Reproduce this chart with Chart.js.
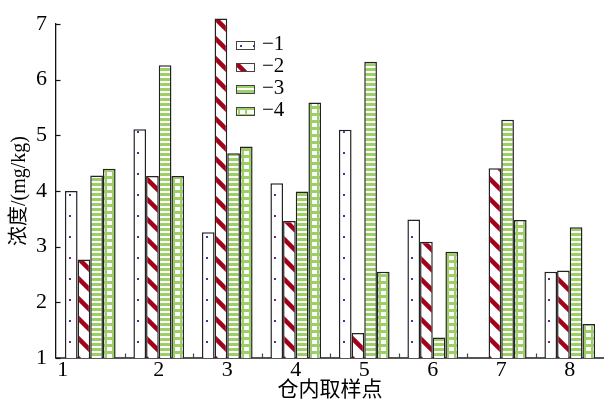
<!DOCTYPE html>
<html>
<head>
<meta charset="utf-8">
<script src="https://cdn.jsdelivr.net/npm/chart.js@4.4.1/dist/chart.umd.min.js"></script>
<style>
  html, body { margin: 0; padding: 0; background: #fff; }
  #wrap { width: 604px; height: 403px; position: relative; }
</style>
</head>
<body>
<div id="wrap"><canvas id="c"></canvas></div>
<script>
// Sampling points inside the granary and measured concentrations (mg/kg)
const sites = ['1', '2', '3', '4', '5', '6', '7', '8'];
const seriesNames = ['\u22121', '\u22122', '\u22123', '\u22124'];
const s1 = [4.00, 5.11, 3.26, 4.14, 5.10, 3.49, null, 2.55];
const s2 = [2.77, 4.27, 7.10, 3.46, 1.45, 3.09, 4.41, 2.57];
const s3 = [4.28, 6.26, 4.68, 3.99, 6.32, 1.37, 5.28, 3.35];
const s4 = [4.40, 4.27, 4.80, 5.59, 2.55, 2.91, 3.48, 1.61];
const yTicks = [1, 2, 3, 4, 5, 6, 7];

const GREEN = '#9ccf66';
const RED = '#a3001a';
const PURPLE = '#5b2a8c';
const SERIF = '"Liberation Serif", "Times New Roman", "DejaVu Serif", "Noto Sans CJK SC", serif';

// Hatch tiles for each series
function tile(w, h, draw) {
  const c = document.createElement('canvas');
  c.width = w; c.height = h;
  const g = c.getContext('2d');
  g.fillStyle = '#fff';
  g.fillRect(0, 0, w, h);
  draw(g, w, h);
  return c;
}
const tiles = [
  tile(13, 21, g => { g.fillStyle = PURPLE; g.fillRect(4, 4, 2, 2); }),
  tile(20, 20, g => {
    g.strokeStyle = RED; g.lineWidth = 4.5;
    for (let k = -1; k <= 1; k++) {
      g.beginPath(); g.moveTo(k * 20 - 3, -3); g.lineTo(k * 20 + 23, 23); g.stroke();
    }
  }),
  tile(8, 5, g => { g.fillStyle = GREEN; g.fillRect(0, 0, 8, 3); }),
  tile(16, 7, g => {
    g.fillStyle = GREEN;
    g.fillRect(0, 0, 16, 3);
    g.fillRect(2, 0, 2, 7);
    g.fillRect(9, 0, 2, 7);
  })
];
function hatch(ctx, i, x0, y0) {
  const p = ctx.createPattern(tiles[i], 'repeat');
  p.setTransform(new DOMMatrix().translate(x0, y0));
  return p;
}

// Anchor every bar's hatch to its own left edge
const barHatch = {
  id: 'barHatch',
  afterDatasetsUpdate(chart) {
    const ctx = chart.ctx;
    chart.data.datasets.forEach((ds, i) => {
      chart.getDatasetMeta(i).data.forEach(el => {
        el.options.backgroundColor = hatch(ctx, i, Math.round(el.x - el.width / 2), chart.chartArea.bottom);
      });
    });
  }
};

// Short inward tick marks on both axes
const inwardTicks = {
  id: 'inwardTicks',
  afterDraw(chart) {
    const ctx = chart.ctx;
    const xs = chart.scales.x, ys = chart.scales.y;
    const a = chart.chartArea;
    ctx.save();
    ctx.strokeStyle = '#111';
    ctx.lineWidth = 1.2;
    ys.ticks.forEach(t => {
      const y = Math.round(ys.getPixelForValue(t.value)) + 0.5;
      ctx.beginPath(); ctx.moveTo(a.left, y); ctx.lineTo(a.left + 4.5, y); ctx.stroke();
    });
    ctx.strokeStyle = '#444';
    for (let i = 1; i < sites.length; i++) {
      const x = Math.round(xs.getPixelForValue(i - 0.5)) + 0.5;
      ctx.beginPath(); ctx.moveTo(x, a.bottom); ctx.lineTo(x, a.bottom - 4.5); ctx.stroke();
    }
    ctx.restore();
  }
};

// Legend drawn inside the plot area
const innerLegend = {
  id: 'innerLegend',
  afterDraw(chart) {
    const ctx = chart.ctx;
    const a = chart.chartArea;
    const bx = a.left + 180, by = a.top + 21, gap = 22, bw = 18, bh = 8;
    ctx.save();
    chart.data.datasets.forEach((ds, i) => {
      const cy = by + i * gap;
      const top = Math.round(cy - bh / 2);
      ctx.fillStyle = hatch(ctx, i, bx, top);
      ctx.fillRect(bx, top, bw, bh);
      ctx.strokeStyle = '#444';
      ctx.lineWidth = 1;
      ctx.strokeRect(bx + 0.5, top + 0.5, bw, bh);
      ctx.fillStyle = '#000';
      ctx.font = '21px ' + SERIF;
      ctx.textBaseline = 'middle';
      ctx.textAlign = 'left';
      ctx.fillText(ds.label, bx + 26, cy - 1);
    });
    ctx.restore();
  }
};

const series = [s1, s2, s3, s4];
const datasets = series.map((vals, i) => ({
  label: seriesNames[i],
  data: vals,
  base: 1,
  clip: false,
  backgroundColor: () => '#fff',
  borderColor: '#222',
  borderWidth: 1.5,
  borderSkipped: 'start',
  categoryPercentage: 0.74,
  barPercentage: 1.0
}));

Chart.defaults.font.family = SERIF;
Chart.defaults.color = '#000';

function draw() {
  new Chart(document.getElementById('c'), {
    type: 'bar',
    data: { labels: sites, datasets },
    options: {
      responsive: true,
      maintainAspectRatio: false,
      animation: false,
      events: [],
      layout: { padding: { top: 24, left: 0, right: 0, bottom: 0 } },
      plugins: { legend: { display: false }, tooltip: { enabled: false } },
      scales: {
        x: {
          grid: { display: true, drawOnChartArea: false, drawTicks: false, lineWidth: 0 },
          border: { display: true, color: '#555', width: 2 },
          ticks: {
            font: { size: 22, lineHeight: 1 }, padding: 1, maxRotation: 0, autoSkip: false,
            // the first site's label sits near the y axis
            callback(v, i) { return i === 0 ? sites[i] + ' '.repeat(10) : sites[i]; }
          },
          title: { display: true, text: '仓内取样点', font: { size: 21, lineHeight: 1.2 }, padding: { top: 0, bottom: 0 } },
          afterFit(s) { s.height = 45; s.paddingLeft = 0; s.paddingRight = 0; }
        },
        y: {
          min: 1, max: 7,
          afterBuildTicks(s) { s.ticks = yTicks.map(v => ({ value: v })); },
          grid: { display: true, drawOnChartArea: false, drawTicks: false, lineWidth: 0 },
          border: { display: true, color: '#111', width: 1.3 },
          ticks: { font: { size: 22, lineHeight: 1 }, padding: 9 },
          title: { display: true, text: '浓度/(mg/kg)', font: { size: 20, lineHeight: 1.2 }, padding: { top: 8, bottom: 0 } },
          afterFit(s) { s.width = 56; s.paddingTop = 0; s.paddingBottom = 0; }
        }
      }
    },
    plugins: [barHatch, inwardTicks, innerLegend]
  });
}

Promise.all([
  document.fonts.load('22px "Liberation Serif"'),
  document.fonts.load('20px "Noto Sans CJK SC"', '浓度')
]).then(draw, draw);
</script>
</body>
</html>
